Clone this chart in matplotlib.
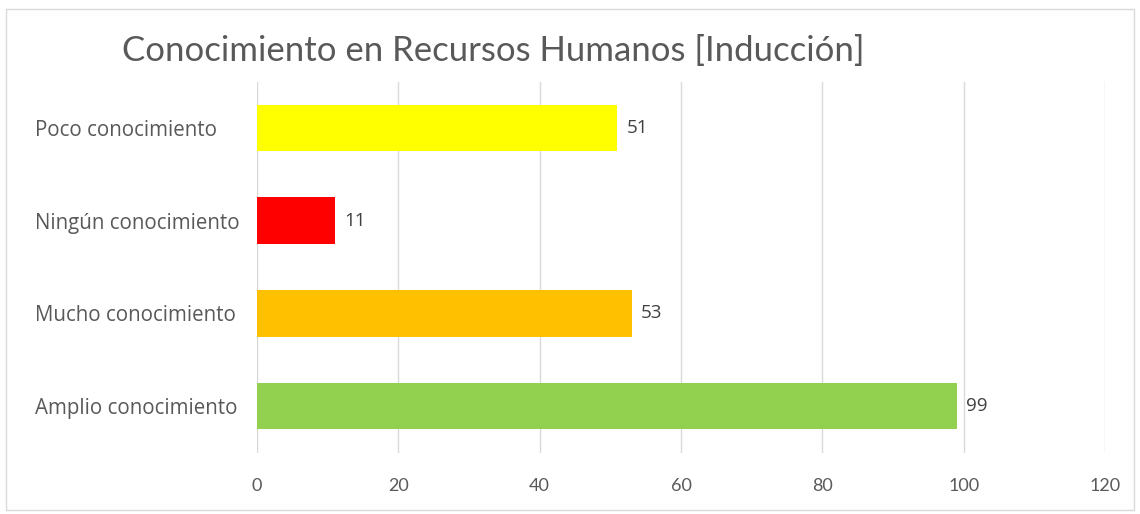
import matplotlib.pyplot as plt
from matplotlib.patches import Rectangle

categories = ["Amplio conocimiento", "Mucho conocimiento", "Ningún conocimiento", "Poco conocimiento"]
values = [99, 53, 11, 51]
colors = ["#92D050", "#FFC000", "#FF0000", "#FFFF00"]
xticks = [0, 20, 40, 60, 80, 100, 120]

plt.rcParams["font.family"] = ["Lato", "DejaVu Sans"]
text_color = "#595959"

fig = plt.figure(figsize=(11.4, 5.14), dpi=100)
ax = fig.add_axes([0.2254, 0.1196, 0.7439, 0.7218])

# thin border round the chart
fig.patches.append(Rectangle((0.005, 0.008), 0.99, 0.975, transform=fig.transFigure,
                             fill=False, edgecolor="#D9D9D9", linewidth=1))

bars = ax.barh(range(len(categories)), values, height=0.5, color=colors)
for bar, v in zip(bars, values):
    ax.text(bar.get_width() + 1.3, bar.get_y() + bar.get_height() / 2, str(v),
            va="center", ha="left", fontsize=13.5, color="#404040",
            family=["Open Sans", "DejaVu Sans"])

ax.set_xlim(0, 120)
ax.set_ylim(-0.5, len(categories) - 0.5)
ax.set_xticks(xticks)
ax.set_yticks(range(len(categories)))
ax.set_yticklabels(categories, family=["Open Sans", "DejaVu Sans"])
for lbl in ax.get_yticklabels():
    lbl.set_horizontalalignment("left")
ax.tick_params(axis="y", length=0, pad=160, labelsize=14.8, labelcolor=text_color)
ax.tick_params(axis="x", length=0, pad=18, labelsize=13, labelcolor=text_color)

ax.grid(axis="x", color="#D9D9D9", linewidth=1)
ax.set_axisbelow(True)
for s in ax.spines.values():
    s.set_visible(False)

fig.text(0.107, 0.9, "Conocimiento en Recursos Humanos [Inducción]", fontsize=25,
         color=text_color, ha="left", va="center")

fig.savefig("out.png", dpi=100)
